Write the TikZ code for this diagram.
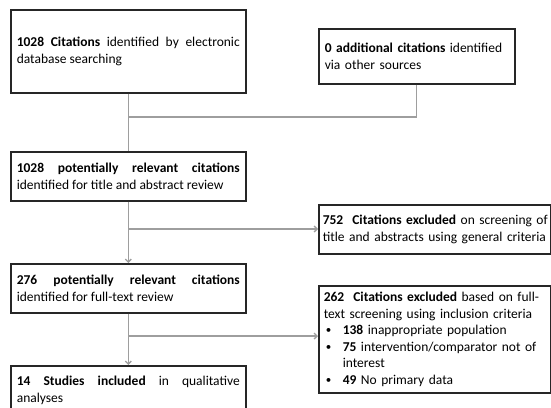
\documentclass[tikz,border=0pt]{standalone}
\usepackage{fontspec}
\setmainfont{Carlito}
\usetikzlibrary{arrows.meta}
\newcommand{\boxfont}{\fontsize{13.5}{16.5}\selectfont\hyphenpenalty=10000\relax}
\tikzset{
  box/.style={draw=black!85, line width=1.6pt, anchor=north west, inner xsep=6pt, inner ysep=3pt,
    font=\boxfont},
  jbox/.style={box, align=justify},
  lbox/.style={box, align=left},
  conn/.style={draw=black!38, line width=1.3pt},
  arr/.style={conn, -{Straight Barb[length=3pt,width=6pt]}}
}
\newcommand{\bul}{\hspace*{3pt}\makebox[17pt][l]{\raisebox{0.8pt}{\fontsize{11}{11}\selectfont•}}}
\begin{document}
\begin{tikzpicture}[x=1pt,y=-1pt]
\useasboundingbox (0,0) rectangle (551,407);
\clip (0,0) rectangle (551,407);
\node[jbox, minimum width=235pt, minimum height=83pt, text width=223pt] (a) at (10,9)
  {\textbf{1028 Citations} identified by electronic database searching};
\node[lbox, minimum width=196pt, minimum height=55pt, text width=184pt] (b) at (318,28)
  {\textbf{0 additional citations} identified\\via other sources};
\node[jbox, minimum width=235pt, minimum height=49pt, text width=223pt] (c) at (10,151)
  {\textbf{1028 potentially relevant citations} identified for title and abstract review};
\node[lbox, minimum width=232pt, minimum height=49pt, text width=228pt, inner xsep=2pt] (e) at (318,204)
  {\hspace*{2pt}\textbf{752\ \ Citations excluded} on screening of\\\hspace*{2pt}title and abstracts using general criteria};
\node[jbox, minimum width=235pt, minimum height=49pt, text width=223pt] (d) at (10,263)
  {\textbf{276 potentially relevant citations} identified for full-text review};
\node[lbox, minimum width=232pt, minimum height=107pt, text width=224pt, inner xsep=4pt] (g) at (318,285)
  {\hspace*{1pt}\textbf{262\ \ Citations excluded} based on full-\\\hspace*{1pt}text screening using inclusion criteria\\
   \bul\textbf{138} inappropriate population\\
   \bul\textbf{75} intervention/comparator not of\\
   \hspace*{20pt}interest\\
   \bul\textbf{49} No primary data};
\node[jbox, minimum width=235pt, minimum height=49pt, text width=223pt] (f) at (10,365)
  {\textbf{14 Studies included} in qualitative analyses};
\coordinate (j1) at (128,117);
\coordinate (j2) at (128,229);
\coordinate (j3) at (128,336);
\draw[conn] (a.south) -- (c.north);
\draw[conn] (b.south) |- (j1);
\draw[arr] (c.south) -- (d.north);
\draw[arr] (j2) -- (j2 -| e.west);
\draw[arr] (d.south) -- (f.north);
\draw[arr] (j3) -- (j3 -| g.west);
\end{tikzpicture}
\end{document}
